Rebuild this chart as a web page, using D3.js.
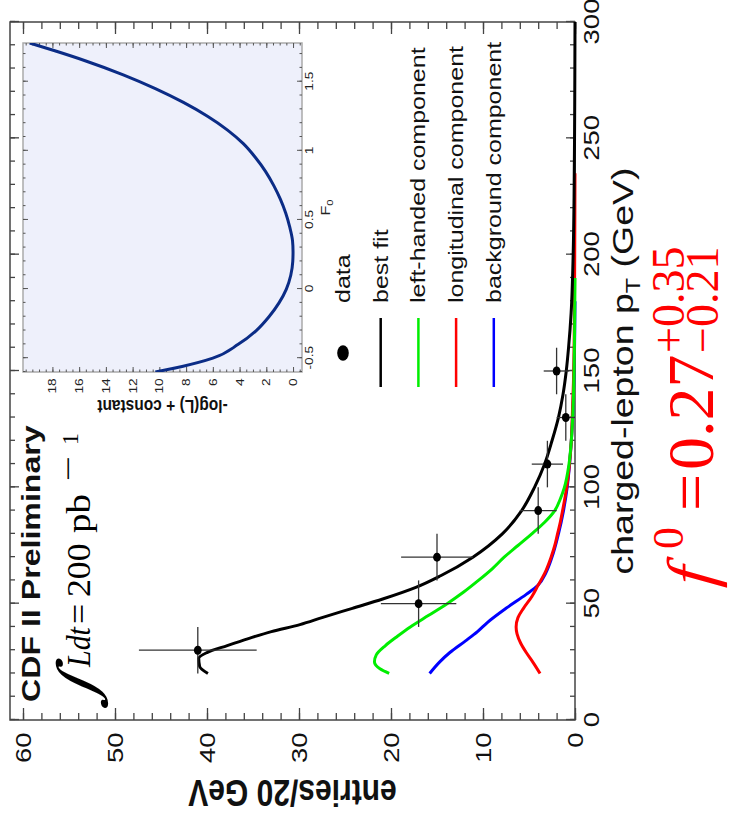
<!DOCTYPE html>
<html>
<head>
<meta charset="utf-8">
<script src="https://cdn.jsdelivr.net/npm/d3@7"></script>
<style>
  html, body { margin: 0; padding: 0; background: #fff; }
  svg { display: block; }
</style>
</head>
<body>
<script>
// Charged-lepton pT spectrum with fitted helicity components and an inset
// likelihood scan in F0. The figure is laid out in landscape coordinates
// (u across, v down) and turned a quarter turn for the portrait page.

// ---- measured bins ----
const binCentres   = [30, 50, 70, 90, 110, 130, 150];
const binHalfWidth = [10, 10, 10, 10, 10, 10, 10];
const binEntries   = [41, 17, 15, 4, 3, 1, 2];
const binErrors    = [6.4, 4.1, 3.9, 2.0, 1.7, 1.0, 1.4];

// ---- fitted curves (pT in GeV, entries per 20 GeV) ----
const fitPt   = [20, 23, 26.5, 29, 32, 35, 38, 41, 44, 48, 52, 57, 62, 70, 80, 90, 100, 110, 120, 130, 140, 150, 160, 175, 200, 225, 250, 275, 300];
const bestFit = [39.9, 40.8, 40.9, 40.0, 37.8, 35.5, 33.0, 29.9, 27.5, 24.2, 20.9, 17.3, 14.6, 11.1, 7.9, 5.8, 4.4, 3.3, 2.5, 1.8, 1.3, 0.95, 0.7, 0.42, 0.2, 0.1, 0.05, 0.02, 0.0];

const lhPt       = [20, 22, 25, 28, 32, 36, 40, 45, 50, 55, 60, 65, 70, 75, 80, 85, 90, 95, 100, 110, 120, 135, 150, 170, 190];
const leftHanded = [20.2, 21.2, 21.8, 21.6, 20.6, 19.3, 17.9, 15.9, 13.9, 12.1, 10.5, 9.0, 7.7, 6.2, 4.7, 3.3, 2.2, 1.6, 1.15, 0.65, 0.4, 0.2, 0.1, 0.04, 0.0];

const lonPt        = [20, 25, 29, 33, 37, 40, 44, 48, 53, 58, 63, 70, 75, 80, 85, 90, 100, 110, 120, 130, 145, 170, 200, 235];
const longitudinal = [3.8, 4.6, 5.3, 5.9, 6.3, 6.4, 6.2, 5.6, 4.7, 4.0, 3.3, 2.6, 2.2, 1.9, 1.6, 1.35, 0.9, 0.6, 0.4, 0.3, 0.17, 0.07, 0.03, 0.0];

const bgPt       = [20, 25, 29, 34, 38, 42, 48, 54, 58, 63, 70, 80, 90, 100, 120, 150, 180];
const background = [15.8, 14.7, 13.6, 11.9, 10.6, 9.5, 7.5, 5.3, 4.0, 3.2, 2.5, 1.8, 1.25, 0.85, 0.4, 0.1, 0.0];

// ---- likelihood scan ----
const f0Scan  = [-0.6, -0.56, -0.5, -0.4, -0.3, -0.2, -0.1, 0.0, 0.1, 0.2, 0.27, 0.35, 0.45, 0.55, 0.65, 0.75, 0.85, 0.95, 1.05, 1.15, 1.25, 1.35, 1.45, 1.55, 1.65, 1.72, 1.78];
const nllScan = [10.3, 8.3, 6.0, 4.1, 2.75, 1.8, 1.05, 0.5, 0.17, 0.02, 0.0, 0.04, 0.25, 0.55, 0.95, 1.45, 2.05, 2.8, 3.7, 4.9, 6.4, 8.2, 10.3, 12.7, 15.5, 17.7, 19.7];

// ---- tick labels ----
const ptTickLabels    = [0, 50, 100, 150, 200, 250, 300];
const entryTickLabels = [0, 10, 20, 30, 40, 50, 60];
const f0TickLabels    = [-0.5, 0, 0.5, 1, 1.5];
const nllTickLabels   = [0, 2, 4, 6, 8, 10, 12, 14, 16, 18];

// ---- legend ----
const legendLabels = ["data", "best fit", "left-handed component", "longitudinal component", "background component"];
const legendColors = ["#000", "#000", "#00ee00", "#ff0000", "#0000ff"];

const SANS  = "'Liberation Sans', Arial, Helvetica, sans-serif";
const SERIF = "'Liberation Serif', 'Times New Roman', serif";
const S = 1.25;          // horizontal widening of the plot lettering
const W = 729, H = 825;

const svg = d3.select("body").append("svg").attr("width", W).attr("height", H);
const page = svg.append("g").attr("transform", `translate(0,${H}) rotate(-90)`);

function put(parent, str, u, v, o = {}) {
  const t = parent.append("text")
    .attr("transform", `translate(${u},${v})` + (o.rotate ? ` rotate(${o.rotate})` : "") +
      ` scale(${o.sx ?? 1},${o.sy ?? 1})` + (o.skew ? ` skewX(${o.skew})` : ""))
    .attr("font-family", o.family || SANS)
    .attr("font-size", o.size || 20)
    .attr("fill", o.fill || "#000")
    .attr("text-anchor", o.anchor || "start");
  if (o.weight) t.attr("font-weight", o.weight);
  if (o.style) t.attr("font-style", o.style);
  if (o.dy) t.attr("dy", o.dy);
  t.text(str);
  return t;
}

// ---------------- main panel ----------------
const x = d3.scaleLinear().domain([0, 300]).range([105, 803]);
const y = d3.scaleLinear().domain([0, 60]).range([575, 23]);
const box = { left: 105, right: 803, top: 10, bottom: 575 };

function tickStyle(g, colour, width) {
  g.select(".domain").remove();
  g.selectAll("line").attr("stroke", colour).attr("stroke-width", width);
}

const axes = page.append("g");
// pT axis (bottom) and its mirror (top)
axes.append("g").attr("transform", `translate(0,${box.bottom})`)
  .call(d3.axisBottom(x).tickValues(x.ticks(30)).tickSize(-5).tickFormat(""))
  .call(tickStyle, "#444", 1.3);
axes.append("g").attr("transform", `translate(0,${box.bottom})`)
  .call(d3.axisBottom(x).tickValues(ptTickLabels).tickSize(-9).tickPadding(8).tickFormat(d3.format("d")))
  .call(tickStyle, "#444", 1.3)
  .call(g => g.selectAll("text").attr("font-size", 22).attr("font-family", SANS).attr("fill", "#111")
    .attr("transform", `scale(${S},1)`));
axes.append("g").attr("transform", `translate(0,${box.top})`)
  .call(d3.axisTop(x).tickValues(x.ticks(30)).tickSize(-5).tickFormat(""))
  .call(tickStyle, "#444", 1.3);
axes.append("g").attr("transform", `translate(0,${box.top})`)
  .call(d3.axisTop(x).tickValues(ptTickLabels).tickSize(-9).tickFormat(""))
  .call(tickStyle, "#444", 1.3);

// entries axis (left) and its mirror (right)
axes.append("g").attr("transform", `translate(${box.left},0)`)
  .call(d3.axisLeft(y).tickValues(y.ticks(30)).tickSize(-7).tickFormat(""))
  .call(tickStyle, "#444", 1.3);
axes.append("g").attr("transform", `translate(${box.left},0)`)
  .call(d3.axisLeft(y).tickValues(entryTickLabels).tickSize(-12).tickPadding(10).tickFormat(d3.format("d")))
  .call(tickStyle, "#444", 1.3)
  .call(g => g.selectAll("text").attr("font-size", 22).attr("font-family", SANS).attr("fill", "#111")
    .attr("transform", `scale(${S},1)`));
axes.append("g").attr("transform", `translate(${box.right},0)`)
  .call(d3.axisRight(y).tickValues(y.ticks(30)).tickSize(-7).tickFormat(""))
  .call(tickStyle, "#444", 1.3);
axes.append("g").attr("transform", `translate(${box.right},0)`)
  .call(d3.axisRight(y).tickValues(entryTickLabels).tickSize(-12).tickFormat(""))
  .call(tickStyle, "#444", 1.3);

page.append("rect")
  .attr("x", box.left).attr("y", box.top)
  .attr("width", box.right - box.left).attr("height", box.bottom - box.top)
  .attr("fill", "none").attr("stroke", "#444").attr("stroke-width", 1.5);

// axis titles
const ptTitle = page.append("text")
  .attr("transform", `translate(${(box.left + box.right) / 2},633) scale(${S},1)`)
  .attr("text-anchor", "middle").attr("font-family", SANS).attr("font-size", 30).attr("fill", "#111");
ptTitle.append("tspan").text("charged-lepton p");
ptTitle.append("tspan").attr("font-size", 20).attr("dy", 7).text("T");
ptTitle.append("tspan").attr("dy", -7).text(" (GeV)");

put(page, "entries/20 GeV", 45, (box.top + box.bottom) / 2,
  { rotate: -90, sy: S, anchor: "middle", size: 30, weight: "bold", fill: "#111" });

// fitted curves
const curve = (xs, ys) => xs.map((p, i) => [p, ys[i]]);
const line = d3.line().x(d => x(d[0])).y(d => y(d[1])).curve(d3.curveMonotoneX);
const curves = page.append("g").attr("fill", "none").attr("stroke-width", 3).attr("stroke-linejoin", "round");
curves.append("path").attr("d", line(curve(bgPt, background))).attr("stroke", legendColors[4]);
curves.append("path").attr("d", line(curve(lonPt, longitudinal))).attr("stroke", legendColors[3]);
curves.append("path").attr("d", line(curve(lhPt, leftHanded))).attr("stroke", legendColors[2]);
curves.append("path").attr("d", line(curve(fitPt, bestFit))).attr("stroke", legendColors[1]);

// data points with error bars
const pts = page.append("g").selectAll("g").data(binCentres.map((c, i) => ({
  c, hw: binHalfWidth[i], n: binEntries[i], e: binErrors[i]
}))).join("g");
pts.append("line")
  .attr("x1", d => x(d.c - d.hw)).attr("x2", d => x(d.c + d.hw))
  .attr("y1", d => y(d.n)).attr("y2", d => y(d.n))
  .attr("stroke", "#333").attr("stroke-width", 1.3);
pts.append("line")
  .attr("x1", d => x(d.c)).attr("x2", d => x(d.c))
  .attr("y1", d => y(Math.max(0, d.n - d.e))).attr("y2", d => y(d.n + d.e))
  .attr("stroke", "#333").attr("stroke-width", 1.3);
pts.append("ellipse")
  .attr("cx", d => x(d.c)).attr("cy", d => y(d.n))
  .attr("rx", 4.5).attr("ry", 3.9).attr("fill", "#000");

// ---------------- annotations ----------------
put(page, "CDF II Preliminary", 123, 40, { sx: 1.26, size: 25.5, weight: "bold", fill: "#111" });
put(page, "\u222B", 118, 98, { family: "'DejaVu Serif', serif", size: 56, sx: 1.2, skew: -18 });
put(page, "Ldt", 158, 90, { family: SERIF, size: 34, style: "italic", sx: 0.88 });
put(page, "=", 201, 90, { family: SERIF, size: 34, sx: 1.05 });
put(page, "200", 228, 90, { family: SERIF, size: 34, sx: 1.05 });
put(page, "pb", 292, 90, { family: SERIF, size: 34, sx: 1.15 });
put(page, "\u2212", 344, 78, { family: SERIF, size: 30, sx: 1.5 });
put(page, "1", 380, 78, { family: SERIF, size: 24 });

// ---------------- legend ----------------
const legend = page.append("g");
legendLabels.forEach((lab, i) => {
  const v = 343 + i * 37.7;
  if (i === 0) {
    legend.append("ellipse").attr("cx", 472).attr("cy", v).attr("rx", 7.8).attr("ry", 5.8).attr("fill", "#000");
  } else {
    legend.append("line").attr("x1", 438).attr("x2", 507).attr("y1", v).attr("y2", v)
      .attr("stroke", legendColors[i]).attr("stroke-width", 2.5);
  }
  put(legend, lab, 522, v, { sx: S, size: 20, dy: "0.35em", fill: "#111" });
});

// ---------------- inset: likelihood scan ----------------
const fx = d3.scaleLinear().domain([-0.6, 1.78]).range([453, 782]);
const fy = d3.scaleLinear().domain([-0.67, 20.2]).range([302, 23]);
const inset = page.append("g");
inset.append("rect")
  .attr("x", fx.range()[0]).attr("y", fy.range()[1])
  .attr("width", fx.range()[1] - fx.range()[0]).attr("height", fy.range()[0] - fy.range()[1])
  .attr("fill", "#eef0fb").attr("stroke", "#aaa").attr("stroke-width", 1.5);
inset.append("clipPath").attr("id", "insetClip").append("rect")
  .attr("x", fx.range()[0]).attr("y", fy.range()[1])
  .attr("width", fx.range()[1] - fx.range()[0]).attr("height", fy.range()[0] - fy.range()[1]);

const ib = fy.range()[0], it = fy.range()[1], il = fx.range()[0], ir = fx.range()[1];
inset.append("g").attr("transform", `translate(0,${ib})`)
  .call(d3.axisBottom(fx).tickValues(fx.ticks(24)).tickSize(-2.5).tickFormat(""))
  .call(tickStyle, "#555", 1);
inset.append("g").attr("transform", `translate(0,${ib})`)
  .call(d3.axisBottom(fx).tickValues(f0TickLabels).tickSize(-5).tickPadding(3).tickFormat(d => String(d)))
  .call(tickStyle, "#555", 1)
  .call(g => g.selectAll("text").attr("font-size", 11).attr("font-family", SANS).attr("fill", "#222")
    .attr("transform", `scale(${S},1)`));
inset.append("g").attr("transform", `translate(0,${it})`)
  .call(d3.axisTop(fx).tickValues(fx.ticks(24)).tickSize(-2.5).tickFormat(""))
  .call(tickStyle, "#555", 1);
inset.append("g").attr("transform", `translate(0,${it})`)
  .call(d3.axisTop(fx).tickValues(f0TickLabels).tickSize(-5).tickFormat(""))
  .call(tickStyle, "#555", 1);
inset.append("g").attr("transform", `translate(${il},0)`)
  .call(d3.axisLeft(fy).tickValues(fy.ticks(40)).tickSize(-2.5).tickFormat(""))
  .call(tickStyle, "#555", 1);
inset.append("g").attr("transform", `translate(${il},0)`)
  .call(d3.axisLeft(fy).tickValues(nllTickLabels).tickSize(-5).tickPadding(5).tickFormat(d3.format("d")))
  .call(tickStyle, "#555", 1)
  .call(g => g.selectAll("text").attr("font-size", 11).attr("font-family", SANS).attr("fill", "#222")
    .attr("transform", `scale(${S},1)`));
inset.append("g").attr("transform", `translate(${ir},0)`)
  .call(d3.axisRight(fy).tickValues(fy.ticks(40)).tickSize(-2.5).tickFormat(""))
  .call(tickStyle, "#555", 1);
inset.append("g").attr("transform", `translate(${ir},0)`)
  .call(d3.axisRight(fy).tickValues(nllTickLabels).tickSize(-5).tickFormat(""))
  .call(tickStyle, "#555", 1);

const scanLine = d3.line().x(d => fx(d[0])).y(d => fy(d[1])).curve(d3.curveMonotoneX);
inset.append("path")
  .attr("d", scanLine(curve(f0Scan, nllScan)))
  .attr("clip-path", "url(#insetClip)")
  .attr("fill", "none").attr("stroke", "#0b2c86").attr("stroke-width", 3);

const f0Title = inset.append("text")
  .attr("transform", `translate(${(il + ir) / 2},330) scale(${S},1)`)
  .attr("text-anchor", "middle").attr("font-family", SANS).attr("font-size", 13).attr("fill", "#222");
f0Title.append("tspan").text("F");
f0Title.append("tspan").attr("font-size", 9).attr("dy", 3).text("0");

put(inset, "-log(L) + constant", 425, (it + ib) / 2,
  { rotate: -90, sy: 1.15, anchor: "middle", size: 15.5, weight: "bold", fill: "#111" });

// ---------------- fit result ----------------
const red = "#ff0000";
put(page, "f", 238, 713, { family: SERIF, size: 66, style: "italic", skew: -6, fill: red });
put(page, "0", 276, 683, { family: SERIF, size: 44, fill: red });
put(page, "=", 314, 713, { family: SERIF, size: 66, fill: red });
put(page, "0.27", 355, 713, { family: SERIF, size: 66, fill: red });
put(page, "+0.35", 472, 684, { family: SERIF, size: 46, fill: red });
put(page, "\u22120.21", 472, 718, { family: SERIF, size: 46, fill: red });
</script>
</body>
</html>
